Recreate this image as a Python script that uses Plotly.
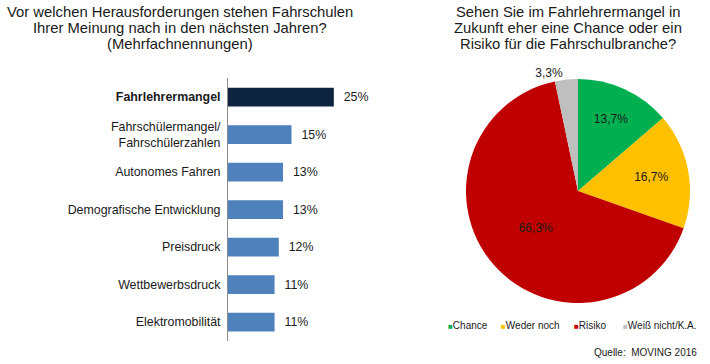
import plotly.graph_objects as go

# ---- data ----
bar_categories = ["<b>Fahrlehrermangel</b>", "Fahrschülermangel/<br>Fahrschülerzahlen",
                  "Autonomes Fahren", "Demografische Entwicklung", "Preisdruck",
                  "Wettbewerbsdruck", "Elektromobilität"]
bar_values = [25, 15, 13, 13, 12, 11, 11]
bar_colors = ["#0F243E", "#4F81BD", "#4F81BD", "#4F81BD", "#4F81BD", "#4F81BD", "#4F81BD"]

pie_labels = ["Chance", "Weder noch", "Risiko", "Weiß nicht/K.A."]
pie_values = [13.7, 16.7, 66.3, 3.3]
pie_colors = ["#00B050", "#FFC000", "#C00000", "#BFBFBF"]
pie_textpos = ["inside", "inside", "inside", "outside"]

left_title_lines = ["Vor welchen Herausforderungen stehen Fahrschulen",
                    "Ihrer Meinung nach in den nächsten Jahren?",
                    "(Mehrfachnennungen)"]
right_title_lines = ["Sehen Sie im Fahrlehrermangel in",
                     "Zukunft eher eine Chance oder ein",
                     "Risiko für die Fahrschulbranche?"]
source_text = "Quelle:  MOVING 2016"

FONT = "Liberation Sans, Arial, sans-serif"
TXT = "#1a1a1a"
W, H = 710, 364

fig = go.Figure()

fig.add_trace(go.Bar(
    x=bar_values, y=bar_categories, orientation="h",
    marker=dict(color=bar_colors, line=dict(width=0)),
    text=[f"  {v}%" for v in bar_values], textposition="outside",
    textfont=dict(family=FONT, size=12.4, color=TXT),
    cliponaxis=False, showlegend=False, hoverinfo="skip",
))

fig.add_trace(go.Pie(
    labels=pie_labels, values=pie_values, sort=False, direction="clockwise",
    rotation=0, marker=dict(colors=pie_colors, line=dict(width=0)),
    texttemplate="%{value:.1f}%", textposition=pie_textpos,
    insidetextorientation="horizontal",
    textfont=dict(family=FONT, size=12, color=TXT),
    domain=dict(x=[466 / W, 690 / W], y=[1 - 303 / H, 1 - 79 / H]),
    showlegend=False, hoverinfo="skip",
))

fig.update_xaxes(range=[0, 30], domain=[228 / W, 355 / W], visible=False)
fig.update_yaxes(
    autorange="reversed", domain=[1 - 340.75 / H, 1 - 78.25 / H],
    showline=True, linecolor="#8c8c8c", linewidth=1, ticks="",
    showgrid=False, zeroline=False, ticklabelstandoff=4,
    tickfont=dict(family=FONT, size=12.4, color=TXT),
)

annotations = []
line_y = [12, 28, 44]
for lines, cx in ((left_title_lines, 180), (right_title_lines, 568)):
    for txt, ly in zip(lines, line_y):
        annotations.append(dict(
            text=txt, x=cx / W, y=1 - ly / H, xref="paper", yref="paper",
            xanchor="center", yanchor="middle", showarrow=False,
            font=dict(family=FONT, size=14.8, color=TXT)))

annotations.append(dict(
    text=source_text, x=699 / W, y=1 - 352 / H, xref="paper", yref="paper",
    xanchor="right", yanchor="middle", showarrow=False,
    font=dict(family=FONT, size=10, color=TXT)))

# legend built as text annotations
legend_x = [446, 499, 572, 621]
for lbl, col, lx in zip(pie_labels, pie_colors, legend_x):
    annotations.append(dict(
        text=f"<span style='color:{col};font-size:8px'>■</span>{lbl}",
        x=lx / W, y=1 - 325 / H, xref="paper", yref="paper",
        xanchor="left", yanchor="middle", showarrow=False,
        font=dict(family=FONT, size=10, color=TXT)))

fig.update_layout(
    width=W, height=H, margin=dict(l=0, r=0, t=0, b=0),
    paper_bgcolor="white", plot_bgcolor="white",
    bargap=0.5, separators=",.", annotations=annotations,
    font=dict(family=FONT, color=TXT),
)

fig.write_html("out.html", config={"displayModeBar": False},
               post_script="document.body.style.margin='0';")
